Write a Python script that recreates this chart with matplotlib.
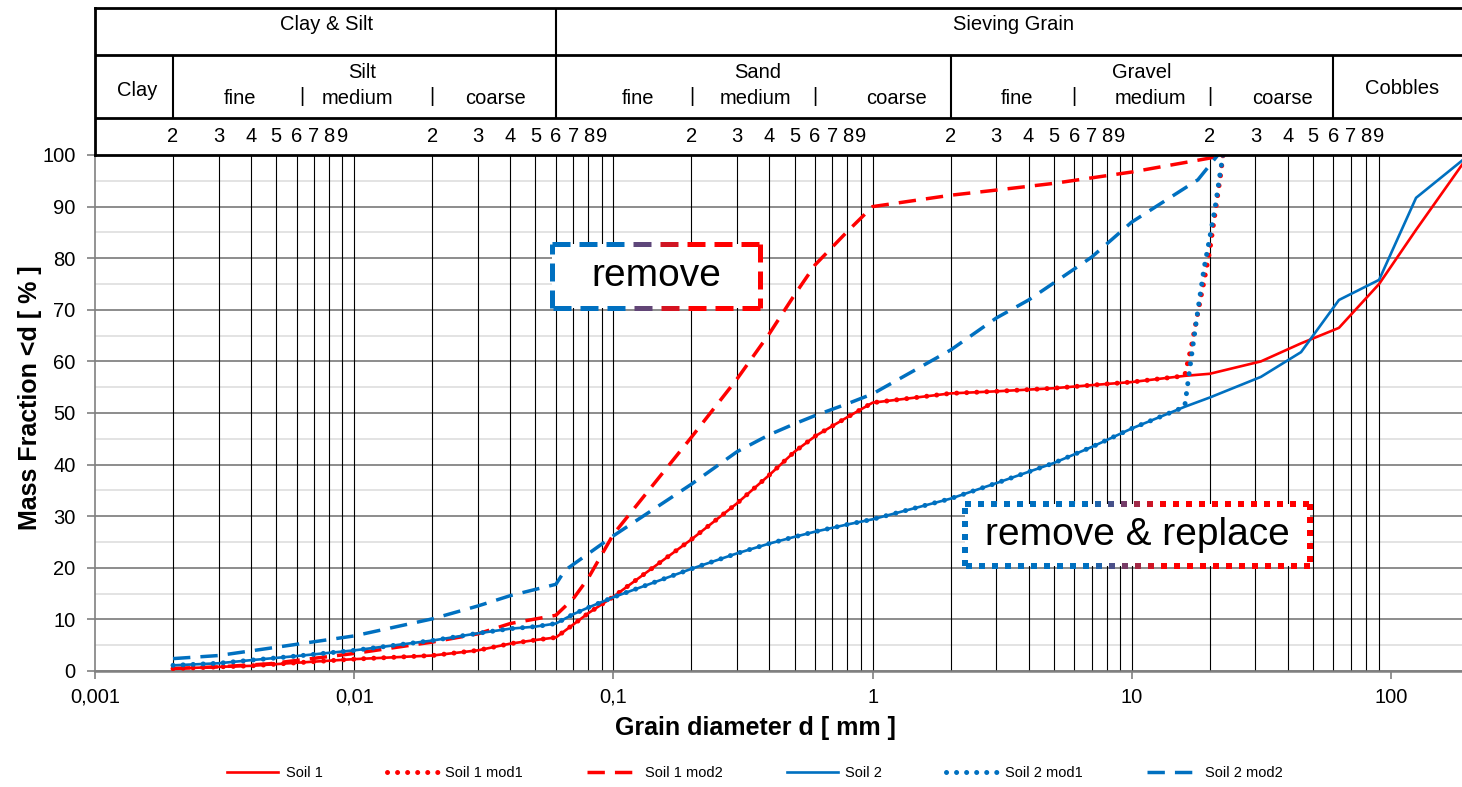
import numpy as np
import matplotlib.pyplot as plt
from matplotlib.collections import LineCollection
from matplotlib.patches import Rectangle
from matplotlib.ticker import NullLocator
from matplotlib.colors import to_rgb

plt.rcParams['font.family'] = ['Liberation Sans', 'DejaVu Sans']

RED = '#FF0000'
BLUE = '#0070C0'

# grain diameters [mm] of the measured curves
d = [0.002, 0.003, 0.004, 0.006, 0.01, 0.02, 0.03, 0.04, 0.05, 0.06, 0.07, 0.08, 0.1,
     0.2, 0.3, 0.4, 0.5, 0.6, 0.8, 1, 2, 3, 5, 7, 10, 16, 20, 31.5, 45, 63, 90, 125, 200]
soil1 = [0.45, 0.8, 1.0, 1.6, 2.3, 3.0, 4.0, 5.3, 6.0, 6.5, 9.0, 11.2, 14.4,
         25.5, 32.5, 38.0, 42.5, 45.5, 49.2, 52.0, 53.8, 54.2, 54.8, 55.4, 56.0, 57.2, 57.6,
         60.0, 63.5, 66.5, 75.0, 85.5, 100]
soil2 = [1.1, 1.5, 2.1, 2.9, 4.0, 5.9, 7.3, 8.2, 8.6, 9.2, 11.0, 12.3, 14.3,
         19.8, 22.8, 24.7, 26.0, 27.0, 28.4, 29.4, 33.4, 36.4, 40.3, 43.4, 47.0, 51.2, 53.0,
         57.0, 61.8, 71.9, 75.8, 91.7, 100]

# mod1: same as original up to 16 mm, then the coarse part is cut off
d_mod1 = d[:26] + [17, 18, 19, 20, 21, 22, 22.5]
soil1_mod1 = soil1[:26] + [63, 69.5, 75.5, 81.5, 89, 96, 100]
soil2_mod1 = soil2[:26] + [61, 70, 78, 84, 90, 97, 100]

d_s1_mod2 = [0.002, 0.003, 0.0047, 0.01, 0.02, 0.03, 0.04, 0.06, 0.07, 0.08, 0.1, 0.2, 0.3,
             0.4, 0.5, 0.6, 0.8, 1, 2, 3, 5, 10, 20, 22]
soil1_mod2 = [0.5, 0.8, 1.4, 3.4, 5.6, 7.2, 9.2, 10.8, 14.0, 18.0, 26.5, 45.3, 56.6,
              65.4, 72.9, 78.7, 85.2, 90.0, 92.2, 93.2, 94.5, 96.7, 99.4, 100]
d_s2_mod2 = [0.002, 0.003, 0.005, 0.01, 0.02, 0.03, 0.04, 0.06, 0.065, 0.1, 0.2, 0.3, 0.4,
             0.5, 0.6, 0.8, 1, 2, 3, 4, 5, 7, 10, 18, 21.5]
soil2_mod2 = [2.4, 3.0, 4.6, 6.8, 10.1, 12.6, 14.6, 16.8, 19.5, 26.2, 36.2, 42.5, 45.8,
              47.9, 49.5, 51.8, 53.7, 62.2, 68.4, 71.9, 75.2, 80.2, 87.0, 95.2, 100]

x_ticks = [0.001, 0.01, 0.1, 1, 10, 100]
x_ticklabels = ['0,001', '0,01', '0,1', '1', '10', '100']

# header (soil classification)
zone_labels = ['Clay & Silt', 'Sieving Grain']
zone_x = [0.0078, 3.5]
class_labels = ['Clay', 'Silt', 'Sand', 'Gravel', 'Cobbles']
class_x = [0.00145, 0.0107, 0.359, 10.9, 110]
class_y = [90, 73, 73, 73, 88]
sub_labels = ['fine', 'medium', 'coarse'] * 3
sub_x = [0.00362, 0.0103, 0.0352, 0.1245, 0.355, 1.24, 3.6, 11.8, 38.3]
sep_x = [0.0063, 0.02, 0.2, 0.6, 6, 20]
class_bounds = [0.002, 2, 60]
zone_bound = 0.06

W, H = 1462, 787
fig = plt.figure(figsize=(W / 100, H / 100), dpi=100)


def px_box(l, t, r, b):
    return [l / W, 1 - b / H, (r - l) / W, (b - t) / H]


ax = fig.add_axes(px_box(95, 155, 1462, 671))
hd = fig.add_axes(px_box(95, 8, 1462, 155))

ax.set_xscale('log')
ax.set_xlim(0.001, 188)
ax.set_ylim(0, 100)
ax.set_xticks(x_ticks)
ax.set_xticklabels(x_ticklabels)
ax.xaxis.set_minor_locator(NullLocator())
ax.set_yticks(range(0, 101, 10))
ax.set_yticks(range(5, 100, 10), minor=True)
ax.tick_params(axis='y', which='minor', length=0)
ax.tick_params(which='major', labelsize=14.5, length=6, width=1.2, color='#808080')
ax.tick_params(axis='x', pad=6)
ax.tick_params(axis='y', pad=8)
ax.grid(axis='y', which='major', color='#8c8c8c', lw=1.4, zorder=0)
ax.grid(axis='y', which='minor', color='#dedede', lw=1.2, zorder=0)
ax.set_axisbelow(True)

minor_x = [m * 10.0 ** k for k in range(-3, 2) for m in range(2, 10)]
for xv in minor_x + [0.01, 0.1, 1, 10]:
    ax.axvline(xv, color='black', lw=0.8, zorder=1)

ax.spines['right'].set_visible(False)
ax.spines['top'].set_visible(False)
ax.spines['left'].set_color('#808080')
ax.spines['left'].set_linewidth(1.2)
ax.spines['bottom'].set_color('#808080')
ax.spines['bottom'].set_linewidth(1.8)

ax.plot(d, soil1, color=RED, lw=1.9, label='Soil 1', zorder=3)
ax.plot(d_mod1, soil1_mod1, color=RED, lw=3.6, ls=(0, (0.01, 2.0)),
        dash_capstyle='round', label='Soil 1 mod1', zorder=3)
ax.plot(d_s1_mod2, soil1_mod2, color=RED, lw=2.5, ls=(0, (5, 2.9)),
        label='Soil 1 mod2', zorder=3)
ax.plot(d, soil2, color=BLUE, lw=1.9, label='Soil 2', zorder=3)
ax.plot(d_mod1, soil2_mod1, color=BLUE, lw=3.6, ls=(0, (0.01, 2.0)),
        dash_capstyle='round', label='Soil 2 mod1', zorder=3)
ax.plot(d_s2_mod2, soil2_mod2, color=BLUE, lw=2.5, ls=(0, (5, 2.9)),
        label='Soil 2 mod2', zorder=3)

fig.text(30 / W, 1 - 398 / H, 'Mass Fraction <d [ % ]', rotation=90, ha='center',
         va='center', fontsize=18, fontweight='bold')
fig.text(755 / W, 1 - 728 / H, 'Grain diameter d [ mm ]', ha='center', va='center',
         fontsize=18, fontweight='bold')

fig.legend(loc='center', bbox_to_anchor=(755 / W, 1 - 773 / H), ncol=6, frameon=False,
           fontsize=10.5, handlelength=3.5, handletextpad=0.5, columnspacing=4.4)

# header table
hd.set_xscale('log')
hd.set_xlim(0.001, 188)
hd.set_ylim(155, 8)
hd.set_xticks([])
hd.set_yticks([])
hd.xaxis.set_minor_locator(NullLocator())
hd.tick_params(which='both', length=0, labelbottom=False, labelleft=False)
hd.spines['right'].set_visible(False)
for s in ['top', 'left', 'bottom']:
    hd.spines[s].set_linewidth(2)
    hd.spines[s].set_color('black')
hd.axhline(55, color='black', lw=2)
hd.axhline(118, color='black', lw=2)
hd.vlines(zone_bound, 8, 118, color='black', lw=1.5)
hd.vlines(class_bounds, 55, 118, color='black', lw=1.5)

fs = 14.5
for lab, xv in zip(zone_labels, zone_x):
    hd.text(xv, 25, lab, ha='center', va='center', fontsize=fs)
for lab, xv, yv in zip(class_labels, class_x, class_y):
    hd.text(xv, yv, lab, ha='center', va='center', fontsize=fs)
for lab, xv in zip(sub_labels, sub_x):
    hd.text(xv, 98, lab, ha='center', va='center', fontsize=fs)
for xv in sep_x:
    hd.text(xv, 97, '|', ha='center', va='center', fontsize=fs)
for k in range(-3, 2):
    for m in range(2, 10):
        hd.text(m * 10.0 ** k, 136, str(m), ha='center', va='center', fontsize=fs)

# annotation boxes with blue -> red borders
ov = fig.add_axes([0, 0, 1, 1])
ov.set_xlim(0, W)
ov.set_ylim(H, 0)
ov.axis('off')


def gradient_box(x0, y0, x1, y1, on, off, lw_px, blue_end, red_start, text):
    ov.add_patch(Rectangle((x0, y0), x1 - x0, y1 - y0, facecolor='white',
                           edgecolor='none'))
    b, r = np.array(to_rgb(BLUE)), np.array(to_rgb(RED))
    corners = [(x0, y0), (x1, y0), (x1, y1), (x0, y1), (x0, y0)]
    segs, cols = [], []
    for (ax0, ay0), (bx, by) in zip(corners[:-1], corners[1:]):
        length = np.hypot(bx - ax0, by - ay0)
        s = 0.0
        while s < length:
            e = min(s + on, length)
            p = (ax0 + (bx - ax0) * s / length, ay0 + (by - ay0) * s / length)
            q = (ax0 + (bx - ax0) * e / length, ay0 + (by - ay0) * e / length)
            segs.append([p, q])
            t = np.clip(((p[0] + q[0]) / 2 - blue_end) / (red_start - blue_end), 0, 1)
            cols.append(tuple(b * (1 - t) + r * t))
            s += on + off
    ov.add_collection(LineCollection(segs, colors=cols, linewidths=lw_px * 72 / 100,
                                     capstyle='butt'))
    ov.text((x0 + x1) / 2, (y0 + y1) / 2, text, ha='center', va='center', fontsize=28)


gradient_box(552, 244, 760, 308, 18, 9, 5, 620, 680, 'remove')
gradient_box(965, 504, 1310, 566, 6, 7, 6, 1090, 1165, 'remove & replace')

fig.savefig('out.png', dpi=100)
